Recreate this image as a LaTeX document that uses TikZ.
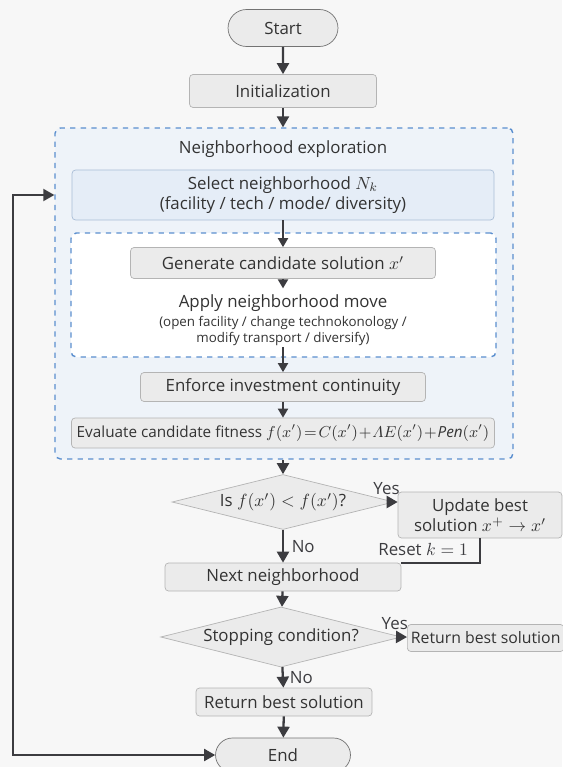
\documentclass[tikz,border=0pt]{standalone}
\usepackage{amsmath,amssymb}
\usepackage{fontspec}
\setmainfont{Open Sans}
\usepackage{xcolor}
\usepackage{tikz}
\usetikzlibrary{shapes.geometric,shapes.misc,arrows.meta,positioning,calc}
\definecolor{ink}{HTML}{333333}
\definecolor{wire}{HTML}{3C3C40}
\definecolor{boxfill}{HTML}{EBEBEB}
\definecolor{boxline}{HTML}{B4B4B4}
\definecolor{zoneblue}{HTML}{5B8FCF}
\definecolor{zonefill}{HTML}{EEF3F9}
\definecolor{selfill}{HTML}{E5EDF7}
\definecolor{selline}{HTML}{A9BDD6}
\definecolor{paper}{HTML}{F7F7F7}

\begin{document}
\begin{tikzpicture}[
  x=0.02cm, y=-0.02cm,
  font=\fontsize{9.6}{11.5}\selectfont, text=ink,
  every node/.style={align=center},
  stepbox/.style={rectangle,rounded corners=2pt,draw=boxline,fill=boxfill,
              inner sep=2pt},
  termbox/.style={rounded rectangle,draw=black!55,fill=boxfill,inner sep=2pt},
  testbox/.style={diamond,draw=boxline,fill=boxfill,aspect=4,inner sep=1pt},
  zone/.style={rectangle,rounded corners=3pt,draw=zoneblue,dashed,thick},
  flow/.style={-{Triangle[length=2.2mm,width=2.4mm]},line width=1.3pt,wire},
  smallflow/.style={-{Triangle[length=1.8mm,width=2mm]},line width=1.1pt,wire}
]
\useasboundingbox[fill=paper] (0,0) rectangle (562,767);

% Start and initialization
\node[termbox,minimum width=2.34cm,minimum height=0.74cm] (start) at (283,28) {Start};
\node[stepbox,minimum width=3.74cm,minimum height=0.66cm] (init) at (283,91) {Initialization};

% Neighborhood exploration block
\node[zone,fill=zonefill,minimum width=9.16cm,minimum height=6.62cm] (explore) at (284,293.5) {};
\node (extitle) at (283,149) {Neighborhood exploration};
\node[stepbox,draw=selline,fill=selfill,minimum width=8.44cm,minimum height=1.0cm] (select) at (283,195)
  {Select neighborhood $N_k$\\(facility / tech / mode/ diversity)};
\node[zone,fill=white,minimum width=8.5cm,minimum height=2.48cm] (moves) at (283.5,295) {};
\node[stepbox,minimum width=6.1cm,minimum height=0.62cm] (gen) at (283,263) {Generate candidate solution $x'$};
\node (apply) at (283,303) {Apply neighborhood move};
\node[font=\fontsize{7.6}{8.6}\selectfont,inner sep=1pt] (applysub) at (283,331)
  {(open facility / change technokonology /\\modify transport / diversify)};
\node[stepbox,minimum width=5.7cm,minimum height=0.58cm] (enforce) at (283,387) {Enforce investment continuity};
\node[stepbox,minimum width=8.46cm,minimum height=0.6cm,font=\fontsize{8.7}{10}\selectfont] (eval) at (283,433)
  {Evaluate candidate fitness $f(x')\!=\!C(x')\!+\!\varLambda E(x')\!+\!\mathit{Pen}(x')$};

% Acceptance test
\node[testbox,minimum width=4.44cm,minimum height=1.1cm] (better) at (283,502) {Is $f(x') < f(x')$?};
\node[stepbox,minimum width=3.28cm,minimum height=0.92cm] (update) at (480,515)
  {Update best\\solution $x^{+} \rightarrow x'$};
\node[stepbox,minimum width=4.72cm,minimum height=0.56cm] (next) at (283,577) {Next neighborhood};

% Stopping test
\node[testbox,minimum width=4.64cm,minimum height=1.12cm] (stop) at (281,637) {Stopping condition?};
\node[stepbox,anchor=west,minimum width=3.1cm,minimum height=0.54cm,font=\fontsize{9}{10}\selectfont]
  (retright) at (407,638) {Return best solution};
\node[stepbox,minimum width=3.52cm,minimum height=0.56cm] (ret) at (284,702) {Return best solution};
\node[termbox,minimum width=2.84cm,minimum height=0.68cm] (end) at (283,755) {End};

% Arrows
\draw[flow] (start) -- (init);
\draw[flow] (init) -- (explore.north -| init);
\draw[smallflow] (select) -- (gen);
\draw[smallflow] (gen) -- (apply);
\draw[smallflow] (applysub) -- (enforce);
\draw[smallflow] (enforce) -- (eval);
\draw[flow] (explore.south -| better) -- (better);
\draw[flow] (better.east) -- node[above left=0pt and -6pt]{Yes} (better.east -| update.west);
\draw[flow] (better) -- node[right=1pt]{No} (next);
\draw[line width=1pt,wire] (update.south) |- node[above left=0pt and 3pt,pos=0.5]{Reset $k=1$} (next.north east);
\draw[flow] (next) -- (stop);
\draw[flow] (stop.east) -- node[above left=0pt and -6pt]{Yes} (retright);
\draw[flow] (stop) -- node[right=0pt]{No} (ret);
\draw[flow] (ret) -- (end);

% Loop back to the exploration block
\coordinate (back) at (13,755);
\draw[line width=1.1pt,wire,{Triangle[length=2.2mm,width=2.4mm]}-{Triangle[length=2.2mm,width=2.4mm]}]
  (end.west) -- (back) |- (explore.west |- select);
\end{tikzpicture}
\end{document}
